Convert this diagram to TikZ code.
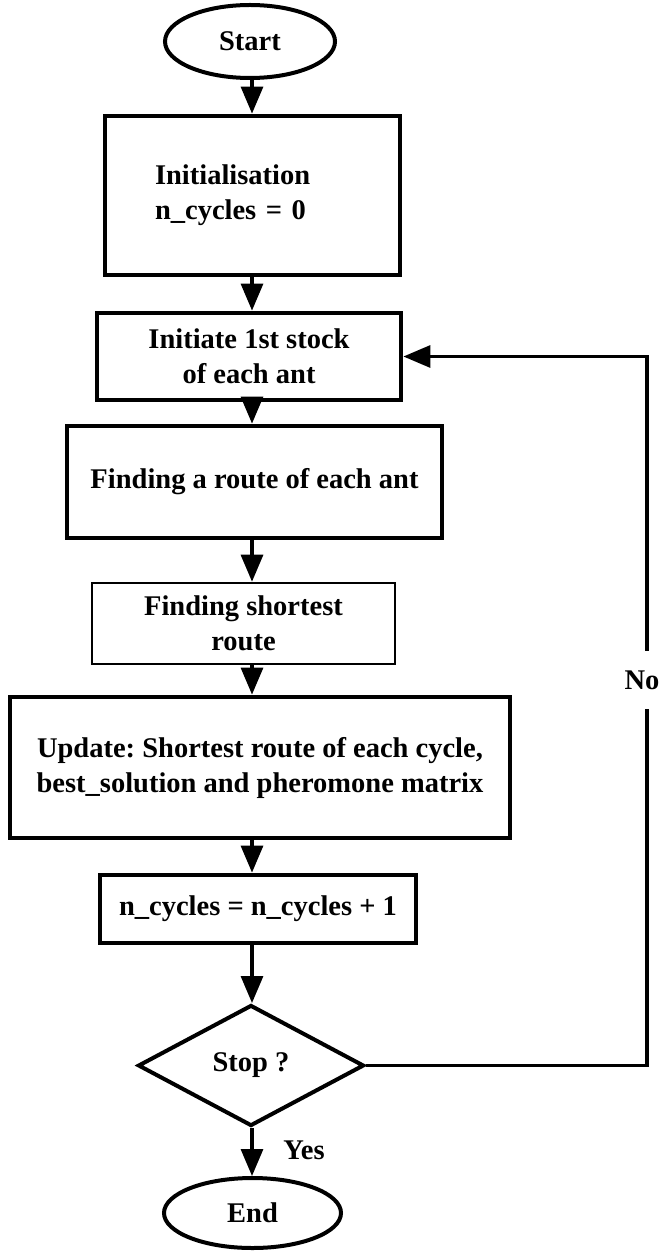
\documentclass[tikz,border=0pt]{standalone}
\usepackage{fontspec}
\setmainfont{Liberation Serif}
\usetikzlibrary{shapes.geometric,arrows.meta}
\tikzstyle{flowbox} = [draw=black, line width=2.4pt, rectangle, inner sep=4pt,
    align=center, font=\fontsize{14.25}{17.5}\selectfont\bfseries\frenchspacing]
\tikzstyle{thinbox} = [flowbox, line width=1.3pt]
\tikzstyle{terminal} = [flowbox, ellipse, line width=2pt]
\tikzstyle{decision} = [flowbox, diamond, line width=2pt, inner sep=0pt]
\tikzstyle{flowarrow} = [line width=1.6pt, -{Triangle[length=13.5pt,width=11pt]}]
\tikzstyle{answer} = [font=\fontsize{14.25}{17.5}\selectfont\bfseries]

\begin{document}
\begin{tikzpicture}[x=0.5pt, y=-0.5pt]
\useasboundingbox (0,0) rectangle (664,1251);
\coordinate (axis) at (252,0);
\coordinate (rail) at (647,0);

\node [terminal, minimum width=85pt, minimum height=36.5pt] (start) at (250,41.5) {Start};
\node [flowbox, align=left, text width=97.5pt, inner xsep=25pt, minimum height=79.5pt]
    (init) at (252.5,195.5) {Initialisation\\n\_cycles = 0};
\node [flowbox, minimum width=152pt, minimum height=43.5pt] (stock) at (249,356.5)
    {Initiate 1st stock\\of each ant};
\node [flowbox, minimum width=187.5pt, minimum height=56pt] (route) at (254.5,482)
    {Finding a route of each ant};
\node [thinbox, minimum width=151.5pt, minimum height=40.5pt] (shortest) at (243.5,623.5)
    {Finding shortest\\route};
\node [flowbox, minimum width=250pt, minimum height=70.5pt] (update) at (260,767.5)
    {Update: Shortest route of each cycle,\\best\_solution and pheromone matrix};
\node [flowbox, minimum width=158pt, minimum height=34pt] (incr) at (258,909)
    {n\_cycles = n\_cycles + 1};
\node [decision, minimum width=113pt, minimum height=60.5pt] (stop) at (251,1065.5) {Stop ?};
\node [terminal, minimum width=88.5pt, minimum height=35pt] (end) at (252.5,1213) {End};

\draw [flowarrow] (start.south -| axis) -- (init.north -| axis);
\draw [flowarrow] (init.south -| axis) -- (stock.north -| axis);
\draw [flowarrow] (stock.south -| axis) -- (route.north -| axis);
\draw [flowarrow] (route.south -| axis) -- (shortest.north -| axis);
\draw [flowarrow] (shortest.south -| axis) -- (update.north -| axis);
\draw [flowarrow] (update.south -| axis) -- (incr.north -| axis);
\draw [flowarrow] (incr.south -| axis) -- (stop.north -| axis);
\draw [flowarrow] (stop.south -| axis) -- (end.north -| axis);
\draw [flowarrow] (stop.east) -- (stop.east -| rail) -- (stock.east -| rail) -- (stock.east);

\node [answer, fill=white, inner xsep=1pt, inner ysep=10pt] (no) at (642,680) {No};
\node [answer] (yes) at (304,1150) {Yes};
\end{tikzpicture}
\end{document}
